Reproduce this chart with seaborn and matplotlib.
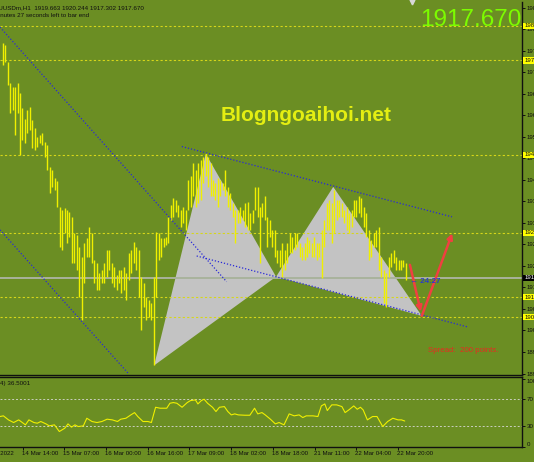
import matplotlib
matplotlib.use("Agg")
import matplotlib.pyplot as plt
import matplotlib.transforms as mtransforms
import seaborn as sns

# XAUUSDm H1 bars (high / low per bar)
bar_high = [
    1978.8, 1978.3, 1974.0, 1968.4, 1967.5, 1967.5, 1968.4, 1965.8, 1961.9, 1959.2,
    1961.4, 1962.3, 1958.8, 1956.6, 1954.5, 1954.9, 1955.3, 1953.2, 1952.3, 1946.7,
    1945.8, 1943.6, 1942.8, 1936.2, 1935.4, 1935.8, 1935.4, 1934.9, 1933.6, 1929.3,
    1928.9, 1925.8, 1923.2, 1926.7, 1928.0, 1931.0, 1929.3, 1922.4, 1921.5, 1918.9,
    1919.8, 1921.5, 1925.0, 1925.0, 1921.5, 1920.6, 1918.4, 1919.8, 1919.8, 1920.6,
    1918.9, 1924.1, 1925.0, 1927.1, 1925.8, 1925.0, 1918.0, 1916.3, 1912.8, 1911.9,
    1911.1, 1918.0, 1929.7, 1929.3, 1928.0, 1928.0, 1928.4, 1933.6, 1936.7, 1938.4,
    1938.0, 1936.7, 1935.4, 1936.2, 1935.4, 1943.2, 1944.1, 1947.5, 1945.8, 1947.5,
    1948.4, 1949.3, 1950.1, 1949.3, 1947.5, 1943.2, 1942.3, 1943.6, 1943.2, 1942.3,
    1945.8, 1941.4, 1939.7, 1937.1, 1935.4, 1935.4, 1936.2, 1935.4, 1937.1, 1937.5,
    1934.5, 1935.4, 1941.4, 1941.4, 1936.2, 1937.1, 1938.9, 1933.6, 1932.8, 1930.2,
    1930.2, 1925.0, 1925.0, 1926.7, 1925.0, 1926.7, 1929.3, 1928.4, 1929.3, 1929.3,
    1926.7, 1925.8, 1926.7, 1928.4, 1927.6, 1926.7, 1928.4, 1926.7, 1926.7, 1930.2,
    1932.8, 1937.1, 1938.0, 1937.1, 1940.6, 1938.0, 1938.0, 1937.1, 1935.4, 1936.2,
    1934.5, 1935.4, 1938.0, 1938.0, 1938.9, 1938.4, 1936.2, 1934.5, 1930.2, 1927.6,
    1929.3, 1930.2, 1931.0, 1923.2, 1919.8, 1918.9, 1923.2, 1924.1, 1925.0, 1923.2,
    1922.4, 1922.4, 1922.4, 1921.5,
]
bar_low = [
    1973.1, 1974.0, 1967.9, 1960.6, 1961.4, 1954.9, 1960.6, 1949.7, 1953.6, 1952.7,
    1955.3, 1956.2, 1951.4, 1951.0, 1951.9, 1952.7, 1952.3, 1949.3, 1945.8, 1939.7,
    1941.4, 1940.6, 1936.2, 1925.8, 1925.0, 1929.3, 1926.7, 1928.4, 1921.5, 1921.5,
    1919.8, 1912.8, 1906.7, 1916.3, 1923.2, 1923.2, 1921.5, 1916.3, 1914.6, 1914.6,
    1916.3, 1916.3, 1918.0, 1919.8, 1916.3, 1915.4, 1914.6, 1916.3, 1913.7, 1914.6,
    1912.0, 1917.1, 1918.9, 1921.5, 1919.8, 1912.8, 1904.1, 1910.2, 1906.7, 1907.6,
    1906.7, 1895.0, 1912.8, 1922.4, 1923.2, 1925.8, 1926.3, 1926.7, 1932.8, 1933.6,
    1934.9, 1933.6, 1931.0, 1931.9, 1930.2, 1935.4, 1936.2, 1938.9, 1936.2, 1937.1,
    1938.0, 1942.3, 1944.1, 1941.4, 1938.9, 1938.9, 1938.0, 1936.2, 1938.9, 1940.6,
    1938.9, 1936.2, 1935.4, 1933.6, 1926.7, 1931.9, 1931.9, 1932.8, 1931.0, 1930.2,
    1930.2, 1931.9, 1935.4, 1933.6, 1921.5, 1933.6, 1932.8, 1925.8, 1928.4, 1925.8,
    1923.2, 1921.5, 1920.6, 1918.0, 1919.8, 1921.5, 1924.1, 1924.1, 1925.0, 1925.8,
    1923.2, 1922.4, 1922.4, 1923.2, 1924.1, 1923.2, 1923.2, 1922.4, 1923.2, 1917.6,
    1925.8, 1930.2, 1930.2, 1926.7, 1929.3, 1932.8, 1933.6, 1933.6, 1931.9, 1930.2,
    1929.3, 1931.0, 1933.6, 1933.6, 1934.5, 1933.6, 1931.0, 1928.4, 1922.4, 1923.2,
    1925.8, 1925.8, 1919.8, 1918.0, 1911.1, 1910.2, 1918.0, 1920.6, 1921.5, 1919.8,
    1919.8, 1919.8, 1920.6, 1917.1,
]
last_price = 1917.67

# RSI(14) polyline vertices (bar index, value)
rsi_x = [
    -1.09, 0.28, 2.34, 4.41, 6.47, 9.2, 10.6, 12.6, 14.0, 15.4, 17.5, 18.8, 20.9,
    22.9, 25.1, 26.4, 27.8, 29.2, 30.5, 32.6, 34.0, 36.1, 38.1, 40.1, 42.2, 44.3,
    46.4, 47.7, 49.8, 51.8, 53.3, 54.6, 56.7, 58.7, 60.1, 61.8, 63.6, 66.3, 67.6,
    69.0, 70.4, 72.5, 74.6, 75.9, 77.9, 78.9, 80.3, 81.4, 82.8, 84.8, 86.2, 87.6,
    89.6, 91.0, 92.4, 93.8, 95.2, 97.9, 99.9, 101.8, 103.1, 104.8, 106.1, 108.2,
    110.2, 111.7, 113.7, 115.8, 117.8, 119.8, 121.3, 122.7, 125.4, 127.4, 128.8,
    130.2, 131.2, 133.0, 135.0, 137.1, 138.4, 139.9, 141.9, 143.3, 144.6, 145.7,
    147.4, 149.5, 151.3, 153.6, 155.6, 157.7, 159.8, 161.2, 162.5,
]
rsi_val = [
    44.6, 45.6, 39.7, 35.8, 39.7, 32.4, 39.7, 35.8, 34.8, 37.3, 33.8, 30.9, 32.4,
    22.6, 27.5, 33.8, 29.0, 32.4, 29.9, 30.9, 42.1, 37.3, 35.8, 37.3, 40.7, 39.7,
    37.3, 40.7, 42.1, 47.0, 50.4, 44.6, 37.3, 37.3, 35.8, 58.2, 56.8, 56.8, 64.1,
    65.1, 64.1, 58.2, 65.1, 68.0, 69.0, 63.1, 68.0, 70.0, 64.1, 58.2, 51.9, 58.2,
    59.2, 51.9, 47.0, 48.5, 47.0, 46.5, 46.5, 56.8, 48.5, 50.4, 47.0, 40.7,
    33.8, 35.8, 32.4, 48.5, 45.6, 47.0, 43.1, 45.6, 45.6, 44.6, 60.2,
    63.1, 53.4, 61.7, 61.7, 59.2, 50.4, 54.3, 60.2, 55.3, 58.2, 54.3,
    39.7, 44.6, 44.6, 29.9, 37.3, 42.1, 39.7, 39.7, 38.0,
]
rsi_now = 36.5001
rsi_levels = [70, 30]
rsi_ticks = [100, 70, 30, 0]

# harmonic pattern X, A, B, C, D
pattern_x = [61.2, 82.1, 110.5, 133.6, 169.4]
pattern_y = [1894.9, 1950.0, 1918.0, 1941.4, 1907.8]

# dotted trend lines: (x0, y0, x1, y1)
trend_lines = [
    (72.4, 1951.9, 181.6, 1933.6),
    (78.4, 1923.4, 188.1, 1904.9),
    (-1.09, 1983.0, 90.5, 1916.7),
    (-1.09, 1930.2, 50.8, 1892.8),
]
# red arrows (from, to)
arrows = [
    ((164.6, 1921.1), (169.0, 1908.9)),
    ((169.4, 1907.8), (181.7, 1929.3)),
]

hlines = [1983.3, 1974.4, 1949.7, 1929.4, 1912.7, 1907.5]
price_ticks = [1988.00, 1982.40, 1976.80, 1971.20, 1965.60, 1960.00, 1954.40,
               1948.80, 1943.20, 1937.60, 1932.00, 1926.40, 1920.80, 1915.20,
               1909.60, 1904.00, 1898.40, 1892.80]

time_pos = [-8.65, 8.2, 24.8, 41.8, 58.7, 75.5, 92.3, 109.3, 126.2, 143.0, 159.8]
time_lbl = ["11 Mar 2022", "14 Mar 14:00", "15 Mar 07:00", "16 Mar 00:00",
            "16 Mar 16:00", "17 Mar 09:00", "18 Mar 02:00", "18 Mar 18:00",
            "21 Mar 11:00", "22 Mar 04:00", "22 Mar 20:00"]

BG = "#6b8e23"
BAR = "#f0f000"
TXT = "#101010"

sns.set_theme(style="white", rc={"axes.facecolor": BG, "figure.facecolor": BG})
plt.rcParams["font.family"] = ["Liberation Sans", "DejaVu Sans"]

W, H = 534, 462
fig = plt.figure(figsize=(W / 100, H / 100), dpi=100, facecolor=BG)


def rect(x0, y0, x1, y1):
    return [x0 / W, 1 - y1 / H, (x1 - x0) / W, (y1 - y0) / H]


ax = fig.add_axes(rect(0, 2, 522, 375))
ax_r = fig.add_axes(rect(0, 377, 522, 447))
for a in (ax, ax_r):
    a.set_facecolor(BG)
    for s in a.spines.values():
        s.set_color("#101010")
        s.set_linewidth(1.0)
    a.spines["left"].set_visible(False)
ax.spines["top"].set_visible(False)

# ---- price panel
xs = pattern_x
ys = pattern_y
ax.fill(xs[:3], ys[:3], color="#c3c3c3", lw=0, zorder=1)
ax.fill(xs[2:], ys[2:], color="#c3c3c3", lw=0, zorder=1)

for lv in hlines:
    ax.axhline(lv, color="#d6d61a", lw=0.8, ls=(0, (2, 2)), zorder=2)
ax.axhline(last_price, color="#a9b39c", lw=1.4, zorder=1.5)

idx = list(range(len(bar_high)))
ax.vlines(idx, bar_low, bar_high, colors=BAR, lw=1.0, zorder=3)

for x0, y0, x1, y1 in trend_lines:
    ax.plot([x0, x1], [y0, y1], color="#2a2ad8", lw=0.9, ls=(0, (1, 1.5)), zorder=4)

for (p0, p1) in arrows:
    ax.annotate("", xy=p1, xytext=p0, zorder=5,
                arrowprops=dict(arrowstyle="-|>", color="#f04040", lw=1.8,
                                mutation_scale=8, shrinkA=0, shrinkB=0))

ax.set_xlim(-1.09, 209.9)
ax.set_ylim(1892.41, 1989.54)
ax.set_xticks([])
ax.yaxis.tick_right()
ax.set_yticks(price_ticks)
ax.set_yticklabels([f"{v:.2f}" for v in price_ticks])
ax.tick_params(axis="y", length=2.2, width=0.7, pad=1.2, labelsize=4.4,
               colors=TXT, right=True)

ymix = mtransforms.blended_transform_factory(ax.transAxes, ax.transData)
for lv in hlines:
    ax.text(1.004, lv, f"{lv:.2f}", transform=ymix, ha="left", va="center",
            fontsize=4.4, color=TXT, clip_on=False,
            bbox=dict(boxstyle="square,pad=0.15", fc="#ffff00", ec="none"))
ax.text(1.004, last_price, f"{last_price:.2f}", transform=ymix, ha="left",
        va="center", fontsize=4.4, color="white", clip_on=False,
        bbox=dict(boxstyle="square,pad=0.15", fc="#000000", ec="none"))

ax.text(0.4228, 0.682, "Blogngoaihoi.net", transform=ax.transAxes, ha="left",
        va="baseline", fontsize=15, fontweight="bold", color="#e4ee12")
ax.text(0.8046, 0.9357, f"{last_price:.3f}", transform=ax.transAxes, ha="left",
        va="baseline", fontsize=17.5, color="#7cfc00")
ax.text(idx[-1] + 1.6, last_price - 1.0, "\u2190 24:27", ha="left", va="center",
        fontsize=5.8, fontweight="bold", color="#2a3cc8", zorder=6)
ax.text(171.8, 1898.8, "Spread:  200 points.", ha="left", va="center",
        fontsize=5.7, color="#e82a20")
ax.plot([idx[-1] + 2.5], [1989.54], marker="v", ms=3.5, color="#d8d8d8",
        clip_on=False)

fig.text(-10 / W, 1 - 9.3 / H,
         "XAUUSDm,H1  1919.663 1920.244 1917.302 1917.670",
         fontsize=4.5, color=TXT, va="baseline")
fig.text(-15 / W, 1 - 17.3 / H, "24 minutes 27 seconds left to bar end",
         fontsize=4.5, color=TXT, va="baseline")

# ---- RSI panel
for lv in rsi_levels:
    ax_r.axhline(lv, color="#c9cfbf", lw=0.7, ls=(0, (2, 2)))
sns.lineplot(x=rsi_x, y=rsi_val, ax=ax_r, color=BAR, lw=0.8)
ax_r.set_xlim(-1.09, 209.9)
ax_r.set_ylim(-0.1, 102.6)
ax_r.yaxis.tick_right()
ax_r.set_yticks(rsi_ticks)
ax_r.set_yticklabels([str(v) for v in rsi_ticks])
ax_r.tick_params(axis="y", length=2.2, width=0.7, pad=1.2, labelsize=4.4,
                 colors=TXT, right=True)
labs = ax_r.get_yticklabels()
labs[0].set_va("top")
labs[-1].set_va("bottom")
ax_r.set_xticks(time_pos[1:])
ax_r.set_xticklabels([])
ax_r.tick_params(axis="x", length=2.2, width=0.7, bottom=True, colors=TXT)
xmix = mtransforms.blended_transform_factory(ax_r.transData, ax_r.transAxes)
for p, t in zip(time_pos, time_lbl):
    ax_r.text(p - 0.4, -0.086, t, transform=xmix, ha="left", va="center",
              fontsize=4.4, color=TXT, clip_on=False)
fig.text(-15.5 / W, 1 - 384.7 / H, f"RSI(14) {rsi_now:.4f}",
         fontsize=4.5, color=TXT, va="baseline")

fig.savefig("out.png", dpi=100, facecolor=BG)
